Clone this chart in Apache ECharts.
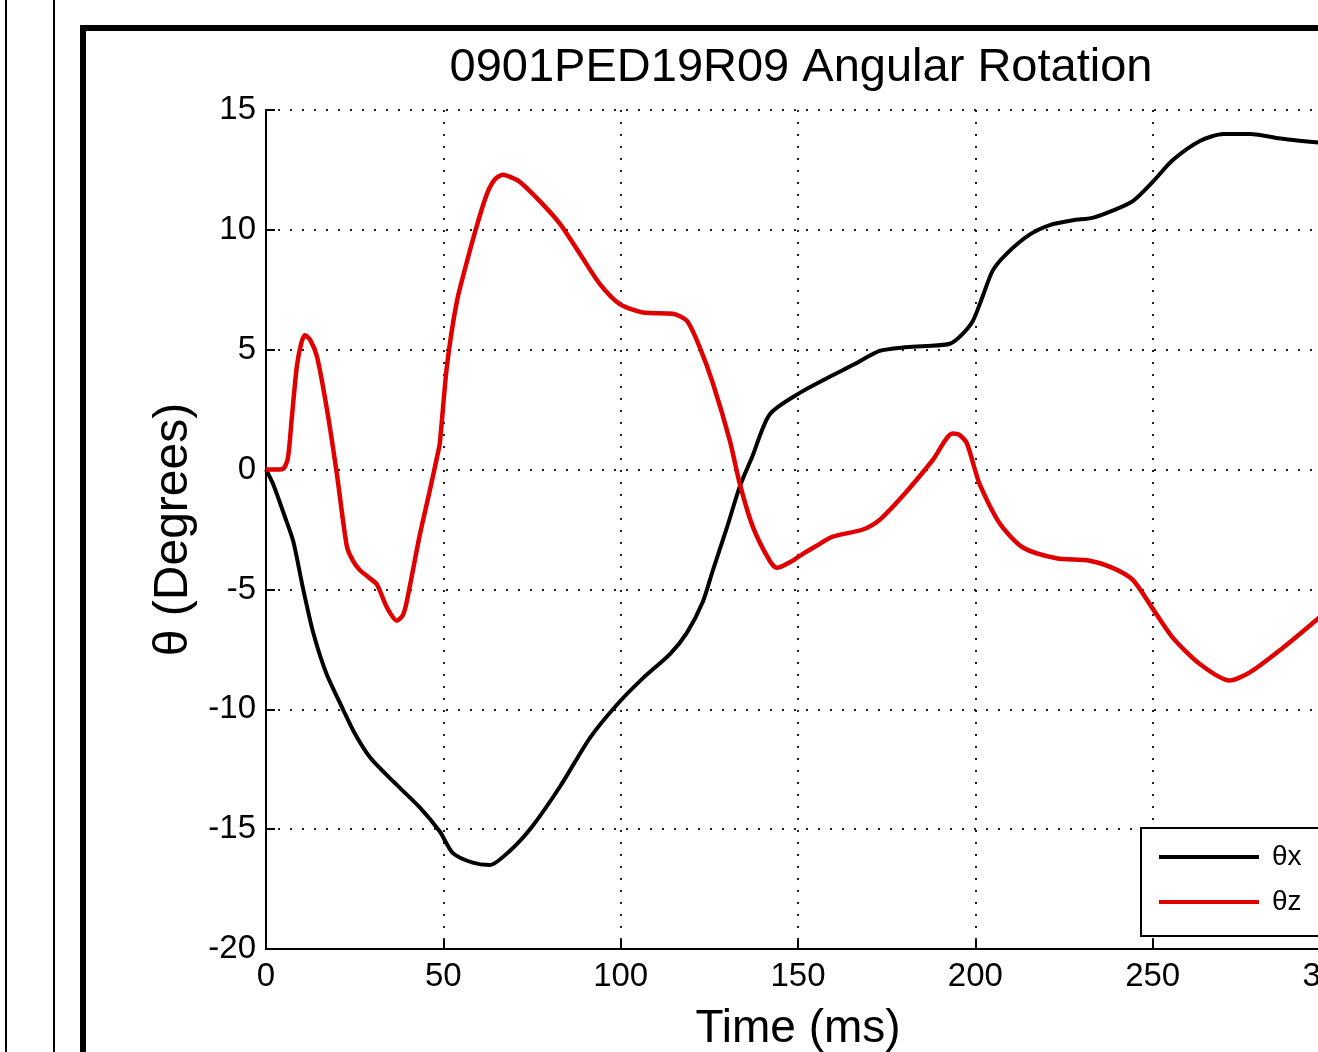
<!DOCTYPE html>
<html>
<head>
<meta charset="utf-8">
<script src="https://cdn.jsdelivr.net/npm/echarts@6/dist/echarts.min.js"></script>
<style>
html,body{margin:0;padding:0;background:#fff;}
#chart{width:1318px;height:1052px;}
</style>
</head>
<body>
<div id="chart"></div>
<script>
// ---- Data ----
const titleText = '0901PED19R09 Angular Rotation';
const xAxisName = 'Time (ms)';
const yAxisName = 'θ (Degrees)';
const seriesNames = ['θx', 'θz'];

const timeX = [0, 2, 5.4, 7.7, 10.5, 13.3, 17, 21.7, 25, 29.3, 35.8, 43.4, 49, 52.7, 58.3, 63, 68.8, 75, 83, 91.3, 99, 106.3, 113.9, 118.7, 123.2, 126, 130, 133.6, 137, 142, 150.5, 158, 166, 173, 180, 186, 192.8, 196, 199.3, 202, 204.9, 208.8, 215.3, 221, 227.5, 233, 238.7, 244.4, 250, 255.6, 263.2, 270, 277.5, 286.6, 296, 300];
const thetaX = [0, -0.6, -2.0, -3.0, -5.0, -6.8, -8.5, -10.0, -11.0, -12.0, -13.0, -14.1, -15.1, -16.0, -16.4, -16.5, -15.9, -14.9, -13.2, -11.2, -9.8, -8.7, -7.7, -6.8, -5.5, -4.2, -2.4, -0.7, 0.5, 2.3, 3.2, 3.8, 4.4, 4.95, 5.1, 5.15, 5.25, 5.6, 6.2, 7.2, 8.3, 9.0, 9.8, 10.2, 10.4, 10.5, 10.8, 11.2, 12.0, 12.9, 13.7, 14.0, 14.0, 13.8, 13.65, 13.6];

const timeZ = [0, 3, 5, 6.2, 7.3, 8.7, 10, 11, 12.5, 14.4, 17.2, 20, 22.8, 24.5, 26.5, 29, 31.3, 34.1, 36.9, 38.5, 39.7, 43.4, 46, 48.2, 49, 51, 53.8, 56.7, 59.5, 62.3, 64.5, 66.8, 69, 71.6, 77.2, 82.9, 88.5, 94.1, 99.8, 106.3, 114.7, 118.7, 122.3, 126, 130.8, 133.6, 137.3, 142, 144, 148.5, 150.5, 155, 159.8, 168.3, 173, 180.7, 188, 193.6, 195.5, 197.6, 201.2, 206.9, 213.4, 222.9, 232.2, 238.7, 244.4, 250, 255.6, 263.2, 271.7, 277.5, 286.6, 296, 300];
const thetaZ = [0, 0, 0.05, 0.5, 2.2, 4.3, 5.3, 5.6, 5.4, 4.7, 2.5, -0.2, -3.2, -3.8, -4.2, -4.5, -4.8, -5.75, -6.3, -6.1, -5.5, -2.7, -1.0, 0.5, 1.1, 4.3, 7.0, 8.7, 10.2, 11.5, 12.1, 12.3, 12.2, 12.0, 11.2, 10.25, 9.0, 7.75, 6.9, 6.55, 6.5, 6.2, 5.1, 3.6, 1.2, -0.6, -2.4, -3.8, -4.1, -3.8, -3.6, -3.2, -2.8, -2.5, -2.1, -0.9, 0.4, 1.5, 1.45, 1.1, -0.6, -2.25, -3.25, -3.7, -3.8, -4.1, -4.6, -5.8, -7.0, -8.1, -8.8, -8.45, -7.45, -6.3, -5.8];

const xTicks = {min: 0, max: 300, interval: 50};
const yTicks = {min: -20, max: 15, interval: 5};

// ---- Build ----
const pairs = (xs, ys) => xs.map((x, i) => [x, ys[i]]);
const FONT = 'Liberation Sans, Arial, Helvetica, sans-serif';

const gridDots = {show: true, lineStyle: {color: '#222', width: 2, type: [2, 10]}};

const chart = echarts.init(document.getElementById('chart'), null, {renderer: 'canvas'});
chart.setOption({
  backgroundColor: '#fff',
  animation: false,
  title: {
    text: titleText,
    left: 796,
    top: 40,
    textAlign: 'center',
    textStyle: {fontFamily: FONT, fontSize: 47, fontWeight: 'normal', color: '#000'}
  },
  grid: {left: 266, top: 110, width: 1064, height: 839, containLabel: false, outerBoundsMode: 'none'},
  xAxis: {
    type: 'value', min: xTicks.min, max: xTicks.max, interval: xTicks.interval,
    name: xAxisName, nameLocation: 'middle', nameGap: 57,
    nameTextStyle: {fontFamily: FONT, fontSize: 46, color: '#000'},
    axisLine: {show: true, onZero: false, lineStyle: {color: '#000', width: 2}},
    axisTick: {show: true, inside: true, length: 9, lineStyle: {color: '#000', width: 2}},
    axisLabel: {fontFamily: FONT, fontSize: 33, color: '#000', margin: 11},
    splitLine: gridDots
  },
  yAxis: {
    type: 'value', min: yTicks.min, max: yTicks.max, interval: yTicks.interval,
    name: yAxisName, nameLocation: 'middle', nameGap: 68, nameRotate: 90,
    nameTextStyle: {fontFamily: FONT, fontSize: 48, color: '#000'},
    axisLine: {show: true, onZero: false, lineStyle: {color: '#000', width: 2}},
    axisTick: {show: true, inside: true, length: 9, lineStyle: {color: '#000', width: 2}},
    axisLabel: {fontFamily: FONT, fontSize: 33, color: '#000', margin: 10},
    splitLine: gridDots
  },
  legend: {
    orient: 'vertical', left: 1141, top: 828,
    backgroundColor: '#fff', borderColor: '#000', borderWidth: 2,
    padding: [11, 40, 16, 18], itemGap: 9, itemWidth: 100, itemHeight: 4,
    icon: 'rect',
    textStyle: {fontFamily: FONT, fontSize: 28, color: '#000', padding: [10, 0, 0, 8], lineHeight: 26},
    data: seriesNames
  },
  series: [
    {name: seriesNames[0], type: 'line', data: pairs(timeX, thetaX), symbol: 'none', smooth: 0.25,
     lineStyle: {color: '#000', width: 4}, itemStyle: {color: '#000'}, z: 3},
    {name: seriesNames[1], type: 'line', data: pairs(timeZ, thetaZ), symbol: 'none', smooth: 0.25,
     lineStyle: {color: '#e00000', width: 4.5}, itemStyle: {color: '#e00000'}, z: 4}
  ],
  graphic: [
    {type: 'line', shape: {x1: 6, y1: 0, x2: 6, y2: 1052}, style: {stroke: '#000', lineWidth: 2}, silent: true},
    {type: 'line', shape: {x1: 54, y1: 0, x2: 54, y2: 1052}, style: {stroke: '#000', lineWidth: 2}, silent: true},
    {type: 'polyline', shape: {points: [[83, 1052], [83, 28], [1318, 28]]}, style: {stroke: '#000', lineWidth: 6, fill: null}, silent: true}
  ]
});
</script>
</body>
</html>
